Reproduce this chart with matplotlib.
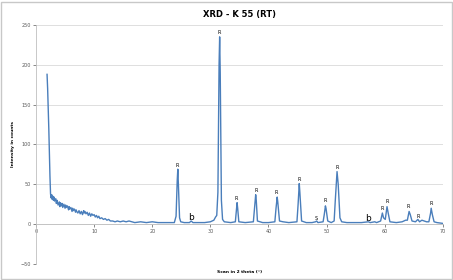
import matplotlib
matplotlib.use("Agg")
import matplotlib.pyplot as plt
from matplotlib.patches import Rectangle

# 2 theta (deg) and intensity (counts)
two_theta = [1.9, 2.0, 2.2, 2.4, 2.5, 2.6, 2.7, 2.8, 2.9, 3.0, 3.1, 3.2, 3.4, 3.5, 3.6, 3.8,
             4.0, 4.1, 4.2, 4.4, 4.5, 4.6, 4.8, 5.0, 5.1, 5.2, 5.4, 5.6, 5.7, 5.8, 6.0, 6.2,
             6.3, 6.4, 6.6, 6.8, 6.9, 7.0, 7.2, 7.4, 7.6, 7.8, 8.0, 8.2, 8.3, 8.4, 8.6, 8.8,
             9.0, 9.2, 9.4, 9.6, 9.8, 10.0, 10.2, 10.4, 10.6, 10.8, 11.0, 11.3, 11.6, 11.9,
             12.2, 12.5, 12.8, 13.2, 13.6, 14.0, 14.5, 15.0, 15.5, 16.0, 16.5, 17.0, 18.0,
             19.0, 20.0, 21.0, 22.0, 23.0, 23.8, 24.1, 24.3, 24.4, 24.5, 24.7, 24.9, 25.5,
             26.4, 26.7, 27.0, 28.0, 29.0, 30.0, 30.6, 30.9, 31.1, 31.3, 31.5, 31.6, 31.7,
             31.9, 32.1, 32.4, 33.5, 34.3, 34.5, 34.6, 34.7, 34.9, 36.0, 37.4, 37.6, 37.8,
             37.9, 38.1, 39.0, 40.0, 41.1, 41.3, 41.5, 41.6, 41.9, 42.5, 43.5, 44.9, 45.1,
             45.3, 45.4, 45.7, 46.5, 47.5, 48.1, 48.3, 48.5, 49.4, 49.6, 49.8, 49.9, 50.2,
             50.8, 51.3, 51.5, 51.8, 52.0, 52.3, 52.6, 53.5, 55.0, 56.0, 57.2, 57.5, 58.3,
             58.6, 59.3, 59.6, 59.8, 60.1, 60.4, 60.6, 60.9, 62.0, 63.0, 63.6, 63.9, 64.2,
             64.4, 64.7, 65.3, 65.7, 66.0, 66.4, 66.8, 67.2, 67.6, 67.9, 68.0, 68.2, 68.5,
             69.0, 70.0]
counts = [188, 170, 120, 60, 38, 33, 37, 31, 35, 30, 34, 29, 32, 26, 30, 24,
          28, 22, 27, 23, 26, 21, 25, 20, 24, 21, 23, 18, 22, 19, 21, 16,
          20, 17, 19, 15, 18, 16, 14, 17, 13, 16, 12, 17, 14, 16, 13, 15,
          11, 14, 10, 13, 11, 12, 9, 11, 8, 10, 7, 8, 6, 7,
          5, 6, 4, 4, 3, 4, 3, 4, 3, 4, 3, 2, 3,
          2, 3, 2, 2, 2, 2, 10, 55, 69, 50, 8, 3, 2,
          2, 4, 2, 2, 2, 3, 5, 9, 11, 40, 200, 235, 190,
          30, 6, 3, 2, 3, 20, 27, 20, 3, 2, 3, 20, 37,
          30, 4, 2, 2, 3, 20, 34, 28, 4, 3, 2, 3, 25,
          51, 40, 4, 2, 2, 3, 4, 2, 3, 12, 23, 20, 4,
          2, 4, 30, 66, 50, 8, 3, 2, 2, 2, 3, 2, 3,
          2, 4, 14, 8, 6, 22, 14, 3, 2, 3, 5, 5, 16,
          12, 4, 3, 6, 3, 5, 4, 3, 3, 14, 20, 12, 3,
          2, 1]

# peak annotations
peak_x = [24.3, 31.5, 34.5, 37.9, 41.4, 45.3, 48.2, 49.7, 51.8, 59.5, 60.5, 64.1, 65.7, 68.0]
peak_y = [71, 237, 29, 39, 37, 53, 4, 26, 68, 17, 25, 19, 7, 23]
peak_lbl = ["R", "R", "R", "R", "R", "R", "S", "R", "R", "R", "R", "R", "R", "R"]
b_x = [26.7, 57.2]
b_y = [3, 2]

fig = plt.figure(figsize=(4.53, 2.80), dpi=100)
fig.patches.append(Rectangle((0.003, 0.004), 0.994, 0.99, transform=fig.transFigure,
                             fill=False, edgecolor="#c8c8c8", linewidth=1))
ax = fig.add_axes([0.0795, 0.057, 0.898, 0.854])

ax.plot(two_theta, counts, color="#4a7ebb", linewidth=1.0)
for x, y, t in zip(peak_x, peak_y, peak_lbl):
    ax.text(x, y, t, fontsize=3.5, ha="center", va="bottom")
for x, y in zip(b_x, b_y):
    ax.text(x, y, "b", fontsize=6.5, ha="center", va="bottom")

ax.set_xlim(0, 70)
ax.set_ylim(-50, 250)
ax.set_xticks(range(0, 71, 10))
ax.set_yticks(range(-50, 251, 50))
ax.grid(axis="y", color="#d9d9d9", linewidth=0.6)
ax.set_axisbelow(True)
for s in ["top", "right"]:
    ax.spines[s].set_visible(False)
ax.spines["left"].set_color("#bfbfbf")
ax.spines["left"].set_linewidth(0.6)
ax.spines["bottom"].set_position(("data", 0))
ax.spines["bottom"].set_color("#bfbfbf")
ax.spines["bottom"].set_linewidth(0.6)
ax.tick_params(labelsize=3.5, colors="#595959", length=2, width=0.5, pad=1.5)

ax.set_title("XRD - K 55 (RT)", fontsize=6, fontweight="bold", pad=6)
ax.set_ylabel("Intensity in counts", fontsize=3.2, fontweight="bold", labelpad=4)
fig.text(0.528, 0.025, "Scan in 2 theta (°)", fontsize=3.2, fontweight="bold", ha="center")

fig.savefig("out.png", dpi=100)
